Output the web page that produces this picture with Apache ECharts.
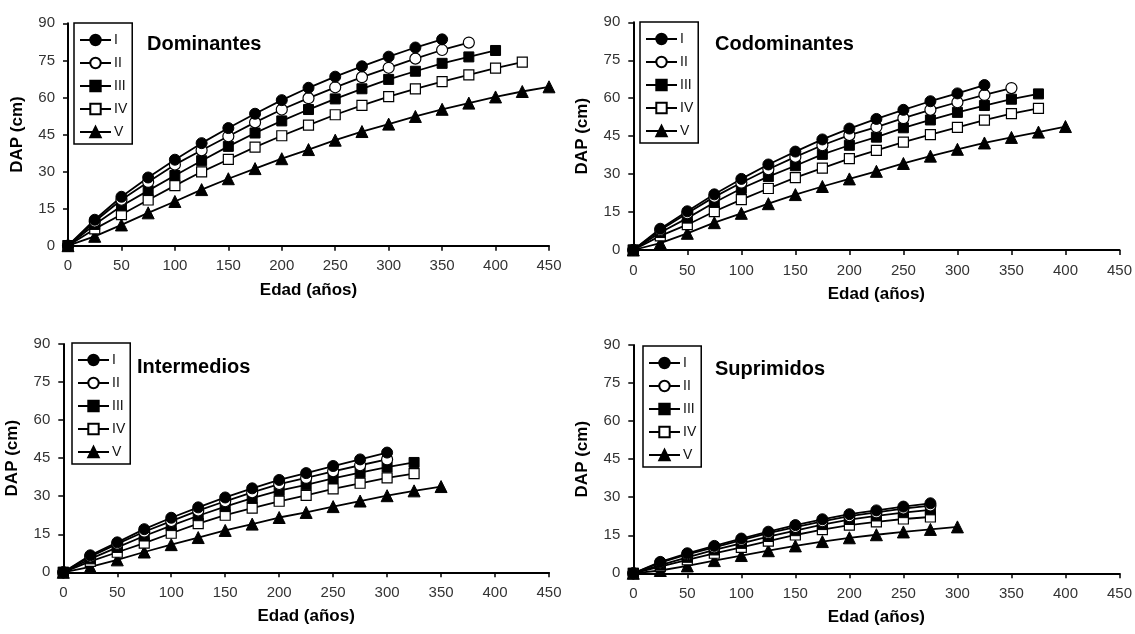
<!DOCTYPE html>
<html>
<head>
<meta charset="utf-8">
<script src="https://cdn.jsdelivr.net/npm/echarts@6/dist/echarts.min.js"></script>
<style>
  html, body { margin: 0; padding: 0; background: #fff; }
  #chart { width: 1135px; height: 634px; }
</style>
</head>
<body>
<div id="chart"></div>
<script>
// Edad (años) en intervalos de 25
const ages = [0, 25, 50, 75, 100, 125, 150, 175, 200, 225, 250, 275, 300, 325, 350, 375, 400, 425, 450];
const classNames = ['I', 'II', 'III', 'IV', 'V'];
const panelTitles = ['Dominantes', 'Codominantes', 'Intermedios', 'Suprimidos'];
const yTicks = [0, 15, 30, 45, 60, 75, 90];
const xTicks = [0, 50, 100, 150, 200, 250, 300, 350, 400, 450];

// DAP (cm) por clase de sitio — Dominantes
const domI   = [0, 10.5, 19.8, 27.6, 34.8, 41.5, 47.6, 53.4, 58.9, 63.9, 68.4, 72.6, 76.5, 80.2, 83.5];
const domII  = [0, 9.8, 18.6, 25.8, 32.8, 38.6, 44.3, 49.9, 55.1, 59.7, 64.1, 68.2, 72.0, 75.7, 79.2, 82.2];
const domIII = [0, 8.6, 16.1, 22.3, 28.4, 34.4, 40.2, 45.6, 50.5, 55.1, 59.4, 63.5, 67.3, 70.6, 73.8, 76.4, 79.0];
const domIV  = [0, 6.8, 12.6, 18.5, 24.3, 29.9, 34.9, 39.9, 44.5, 48.8, 53.0, 56.8, 60.3, 63.5, 66.4, 69.1, 71.9, 74.3];
const domV   = [0, 3.8, 8.4, 13.3, 17.9, 22.7, 27.1, 31.2, 35.2, 38.9, 42.7, 46.2, 49.2, 52.3, 55.2, 57.7, 60.2, 62.4, 64.3];

// Codominantes
const codI   = [0, 8.4, 15.3, 22.0, 28.1, 33.8, 38.9, 43.7, 48.0, 51.8, 55.4, 58.8, 61.9, 65.2];
const codII  = [0, 7.9, 14.5, 21.0, 26.6, 31.9, 36.8, 41.4, 45.4, 48.6, 52.1, 55.4, 58.4, 61.3, 64.0];
const codIII = [0, 6.9, 12.6, 18.8, 24.3, 29.0, 33.3, 37.8, 41.4, 44.6, 48.3, 51.4, 54.4, 57.1, 59.6, 61.7];
const codIV  = [0, 5.6, 10.0, 15.2, 19.9, 24.3, 28.6, 32.4, 36.1, 39.4, 42.6, 45.6, 48.5, 51.3, 53.9, 56.0];
const codV   = [0, 2.7, 6.6, 10.8, 14.5, 18.3, 21.9, 25.1, 28.1, 31.1, 34.2, 37.1, 39.8, 42.3, 44.5, 46.6, 48.8];

// Intermedios
const intI   = [0, 6.7, 11.8, 17.0, 21.5, 25.6, 29.5, 33.1, 36.4, 39.1, 41.9, 44.5, 47.2];
const intII  = [0, 6.2, 11.2, 16.0, 20.2, 24.3, 28.0, 31.5, 34.8, 37.2, 39.8, 42.2, 44.5];
const intIII = [0, 5.3, 9.8, 14.3, 18.4, 22.3, 25.9, 29.2, 32.2, 34.5, 37.0, 39.3, 41.5, 43.3];
const intIV  = [0, 4.3, 7.9, 11.5, 15.4, 19.2, 22.5, 25.3, 28.0, 30.3, 32.9, 35.1, 37.2, 38.9];
const intV   = [0, 2.1, 4.9, 8.0, 10.9, 13.7, 16.5, 19.0, 21.6, 23.6, 25.9, 28.1, 30.2, 32.1, 33.8];

// Suprimidos
const supI   = [0, 4.5, 7.9, 10.8, 13.7, 16.4, 19.0, 21.3, 23.3, 24.8, 26.3, 27.6];
const supII  = [0, 4.2, 7.5, 10.2, 13.1, 15.8, 18.2, 20.5, 22.5, 24.0, 25.5, 26.7];
const supIII = [0, 3.2, 6.3, 9.2, 11.8, 14.5, 16.8, 19.2, 21.2, 22.6, 23.9, 25.0];
const supIV  = [0, 2.6, 5.3, 7.9, 10.2, 12.7, 15.1, 17.2, 19.0, 20.3, 21.4, 22.2];
const supV   = [0, 1.1, 2.9, 5.0, 7.0, 8.9, 10.8, 12.5, 14.0, 15.2, 16.3, 17.3, 18.3];

const panelData = [
  [domI, domII, domIII, domIV, domV],
  [codI, codII, codIII, codIV, codV],
  [intI, intII, intIII, intIV, intV],
  [supI, supII, supIII, supIV, supV]
];

const FONT = "'Liberation Sans', Arial, sans-serif";

// Plot areas (px)
const grids = [
  { left: 68,    top: 23.3, width: 481,   height: 222.4 },
  { left: 633.3, top: 22.3, width: 486.7, height: 227.7 },
  { left: 63.3,  top: 344,  width: 485.7, height: 228.3 },
  { left: 633.3, top: 345,  width: 486.7, height: 228.3 }
];
const titlePos = [
  { left: 147, top: 34 },
  { left: 715, top: 34 },
  { left: 137, top: 357 },
  { left: 715, top: 359 }
];
const legendPos = [
  { left: 74,  top: 23 },
  { left: 640, top: 22 },
  { left: 72,  top: 343 },
  { left: 643, top: 346 }
];

// Marker look for each site class
const markerStyles = [
  { symbol: 'circle',   symbolSize: 11, itemStyle: { color: '#000', borderColor: '#000', borderWidth: 1 } },
  { symbol: 'circle',   symbolSize: 11, itemStyle: { color: '#fff', borderColor: '#000', borderWidth: 1.2 } },
  { symbol: 'rect',     symbolSize: 10, itemStyle: { color: '#000', borderColor: '#000', borderWidth: 1 } },
  { symbol: 'rect',     symbolSize: 10, itemStyle: { color: '#fff', borderColor: '#000', borderWidth: 1.2 } },
  { symbol: 'triangle', symbolSize: 12, itemStyle: { color: '#000', borderColor: '#000', borderWidth: 1 } }
];

const option = {
  backgroundColor: '#fff',
  animation: false,
  title: [], legend: [], grid: [], xAxis: [], yAxis: [], series: []
};

panelData.forEach((classes, p) => {
  option.grid.push(Object.assign({ containLabel: false }, grids[p]));
  option.title.push({
    text: panelTitles[p],
    left: titlePos[p].left, top: titlePos[p].top, padding: 0,
    textStyle: { fontFamily: FONT, fontSize: 20, fontWeight: 'bold', color: '#000' }
  });
  option.legend.push({
    data: classNames,
    orient: 'vertical',
    left: legendPos[p].left, top: legendPos[p].top,
    selectedMode: false,
    backgroundColor: '#fff',
    borderColor: '#000', borderWidth: 1.5, borderRadius: 0,
    padding: [10, 5, 5, 5],
    itemWidth: 31, itemHeight: 13, itemGap: 9,
    textStyle: { fontFamily: FONT, fontSize: 14, color: '#111', padding: [0, 0, 0, -2] }
  });
  option.xAxis.push({
    type: 'value', gridIndex: p, min: xTicks[0], max: xTicks[xTicks.length - 1], interval: 50,
    name: 'Edad (años)', nameLocation: 'middle', nameGap: 36,
    nameTextStyle: { fontFamily: FONT, fontSize: 17, fontWeight: 'bold', color: '#000' },
    axisLine: { lineStyle: { color: '#000', width: 2 } },
    axisTick: { show: true, length: 5, lineStyle: { color: '#000', width: 1.5 } },
    axisLabel: { margin: 13, fontFamily: FONT, fontSize: 15, color: '#333' },
    splitLine: { show: false }
  });
  option.yAxis.push({
    type: 'value', gridIndex: p, min: yTicks[0], max: yTicks[yTicks.length - 1], interval: 15,
    name: 'DAP (cm)', nameLocation: 'middle', nameGap: 42,
    nameTextStyle: { fontFamily: FONT, fontSize: 17, fontWeight: 'bold', color: '#000' },
    axisLine: { show: true, lineStyle: { color: '#000', width: 2 } },
    axisTick: { show: true, length: 5, lineStyle: { color: '#000', width: 1.5 } },
    axisLabel: { margin: 13, fontFamily: FONT, fontSize: 15, color: '#333' },
    splitLine: { show: false }
  });
  // draw class V first so class I markers sit on top
  for (let k = classes.length - 1; k >= 0; k--) {
    const vals = classes[k];
    option.series.push(Object.assign({
      name: classNames[k],
      type: 'line',
      xAxisIndex: p, yAxisIndex: p,
      data: vals.map((v, i) => [ages[i], v]),
      showAllSymbol: true,
      lineStyle: { color: '#000', width: 1.8 },
      emphasis: { disabled: true },
      z: 2
    }, markerStyles[k]));
  }
});

const chart = echarts.init(document.getElementById('chart'), null, { renderer: 'canvas' });
chart.setOption(option);
</script>
</body>
</html>
